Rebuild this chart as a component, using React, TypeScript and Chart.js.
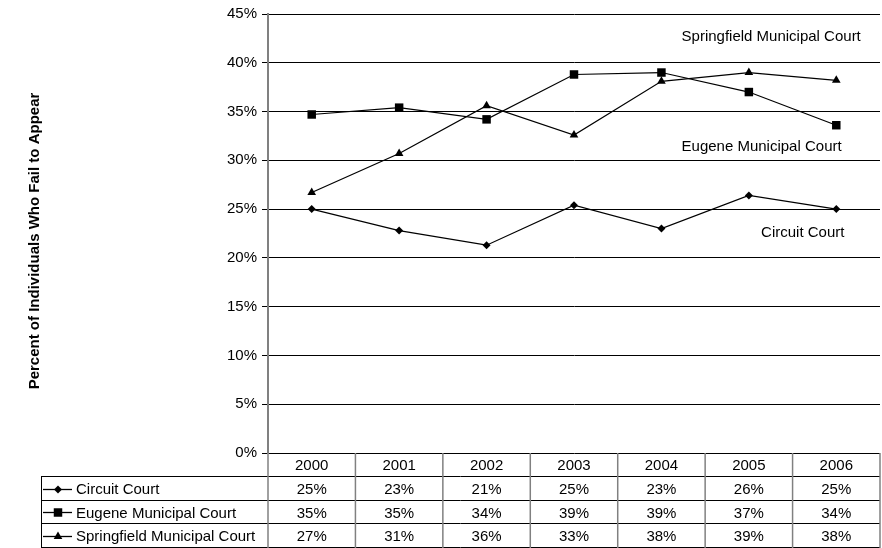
import React, { useEffect, useRef } from "react";
import { Chart, registerables } from "chart.js";

Chart.register(...registerables);

const years = ["2000", "2001", "2002", "2003", "2004", "2005", "2006"];
const seriesNames = ["Circuit Court", "Eugene Municipal Court", "Springfield Municipal Court"];
const circuitCourt = [25.0, 22.8, 21.3, 25.4, 23.0, 26.4, 25.0];
const eugeneMunicipal = [34.7, 35.4, 34.2, 38.8, 39.0, 37.0, 33.6];
const springfieldMunicipal = [26.7, 30.7, 35.6, 32.6, 38.1, 39.0, 38.2];
const pointStyles = ["rectRot", "rect", "triangle"];
const pointRadii = [4, 6, 5];
const yTickValues = [0, 5, 10, 15, 20, 25, 30, 35, 40, 45];
const yAxisTitle = "Percent of Individuals Who Fail to Appear";
const annotationLabels = ["Springfield Municipal Court", "Eugene Municipal Court", "Circuit Court"];
const annotationX = [4.23, 4.23, 5.14];
const annotationY = [42.7, 31.4, 22.55];

const FONT = "'Liberation Sans', Arial, sans-serif";

function drawMarker(ctx: CanvasRenderingContext2D, style: string, r: number, x: number, y: number) {
  ctx.save();
  ctx.fillStyle = "#000";
  ctx.beginPath();
  if (style === "rectRot") {
    ctx.moveTo(x - r, y);
    ctx.lineTo(x, y - r);
    ctx.lineTo(x + r, y);
    ctx.lineTo(x, y + r);
  } else if (style === "rect") {
    const s = Math.SQRT1_2 * r;
    ctx.rect(x - s, y - s, 2 * s, 2 * s);
  } else {
    const h = r * 0.866;
    ctx.moveTo(x, y - r);
    ctx.lineTo(x + h, y + r / 2);
    ctx.lineTo(x - h, y + r / 2);
  }
  ctx.closePath();
  ctx.fill();
  ctx.restore();
}

export default function App() {
  const ref = useRef<HTMLCanvasElement | null>(null);
  useEffect(() => {
    if (!ref.current) return;
    const allSeries = [circuitCourt, eugeneMunicipal, springfieldMunicipal];
    const tablePlugin = {
      id: "tablePlugin",
      afterDraw(chart: any) {
        const ctx = chart.ctx;
        const area = chart.chartArea;
        const xs = chart.scales.x;
        const ys = chart.scales.y;
        const H = chart.height;
        const colW = area.width / years.length;
        const rowH = (H - area.bottom) / 4;
        const tableLeft = 41;
        ctx.save();
        ctx.strokeStyle = "#000";
        ctx.lineWidth = 1;
        for (let r = 1; r <= 4; r++) {
          let y = Math.round(area.bottom + r * rowH) - 0.5;
          if (r === 4) y = H - 0.5;
          ctx.beginPath();
          ctx.moveTo(tableLeft, y);
          ctx.lineTo(area.right, y);
          ctx.stroke();
        }
        ctx.beginPath();
        ctx.moveTo(tableLeft + 0.5, Math.round(area.bottom + rowH) - 0.5);
        ctx.lineTo(tableLeft + 0.5, H);
        ctx.stroke();
        ctx.strokeStyle = "#808080";
        ctx.lineWidth = 1.5;
        for (let c = 0; c <= years.length; c++) {
          const x = area.left + c * colW;
          ctx.beginPath();
          ctx.moveTo(x, area.bottom);
          ctx.lineTo(x, H);
          ctx.stroke();
        }
        ctx.fillStyle = "#000";
        ctx.font = `15px ${FONT}`;
        ctx.textAlign = "center";
        ctx.textBaseline = "middle";
        years.forEach((yr, i) => {
          ctx.fillText(yr, xs.getPixelForValue(i), area.bottom + rowH / 2 + 1);
        });
        allSeries.forEach((vals, r) => {
          const cy = area.bottom + (r + 1) * rowH + rowH / 2 + 1;
          ctx.textAlign = "center";
          vals.forEach((v, i) => {
            ctx.fillText(Math.round(v) + "%", xs.getPixelForValue(i), cy);
          });
          const ly = Math.round(cy) - 0.5;
          ctx.strokeStyle = "#000";
          ctx.lineWidth = 1.3;
          ctx.beginPath();
          ctx.moveTo(tableLeft + 2, ly);
          ctx.lineTo(tableLeft + 31, ly);
          ctx.stroke();
          drawMarker(ctx, pointStyles[r], pointRadii[r], tableLeft + 17, ly);
          ctx.fillStyle = "#000";
          ctx.textAlign = "left";
          ctx.fillText(seriesNames[r], tableLeft + 35, cy);
        });
        ctx.font = `15px ${FONT}`;
        ctx.textAlign = "left";
        annotationLabels.forEach((t, i) => {
          ctx.fillText(t, xs.getPixelForValue(annotationX[i]), ys.getPixelForValue(annotationY[i]));
        });
        ctx.save();
        ctx.translate(35, (area.top + H) / 2 - 40);
        ctx.rotate(-Math.PI / 2);
        ctx.font = `bold 15px ${FONT}`;
        ctx.textAlign = "center";
        ctx.textBaseline = "middle";
        ctx.fillText(yAxisTitle, 0, 0);
        ctx.restore();
        ctx.restore();
      },
    };

    const chart = new Chart(ref.current, {
      type: "line",
      data: {
        labels: years,
        datasets: allSeries.map((vals, i) => ({
          label: seriesNames[i],
          data: vals,
          borderColor: "#000",
          backgroundColor: "#000",
          borderWidth: 1.2,
          pointStyle: pointStyles[i] as any,
          pointRadius: pointRadii[i],
          pointBorderWidth: 0,
          pointBackgroundColor: "#000",
          tension: 0,
          fill: false,
        })),
      },
      options: {
        animation: false,
        responsive: false,
        layout: { autoPadding: false, padding: { top: 14, right: 2, bottom: 95, left: 0 } },
        plugins: { legend: { display: false }, tooltip: { enabled: false }, title: { display: false } },
        scales: {
          x: {
            type: "category",
            display: true,
            offset: true,
            ticks: { display: false },
            grid: { display: false, drawTicks: false, tickLength: 0 },
            border: { display: false },
          },
          y: {
            min: 0,
            max: 45,
            afterFit: (s: any) => {
              s.width = 268;
            },
            afterBuildTicks: (s: any) => {
              s.ticks = yTickValues.map((v) => ({ value: v }));
            },
            ticks: {
              color: "#000",
              font: { family: FONT, size: 15 },
              padding: 5,
              callback: (v: any) => `${v}%`,
            },
            grid: { color: "#000", lineWidth: 1, tickLength: 6, drawTicks: true },
            border: { color: "#808080", width: 2 },
          },
        },
      },
      plugins: [tablePlugin],
    });
    return () => chart.destroy();
  }, []);
  return (
    <div style={{ position: "absolute", left: 0, top: 0, width: 882, height: 548, background: "#fff" }}>
      <canvas ref={ref} width={882} height={548} style={{ width: 882, height: 548 }} />
    </div>
  );
}
